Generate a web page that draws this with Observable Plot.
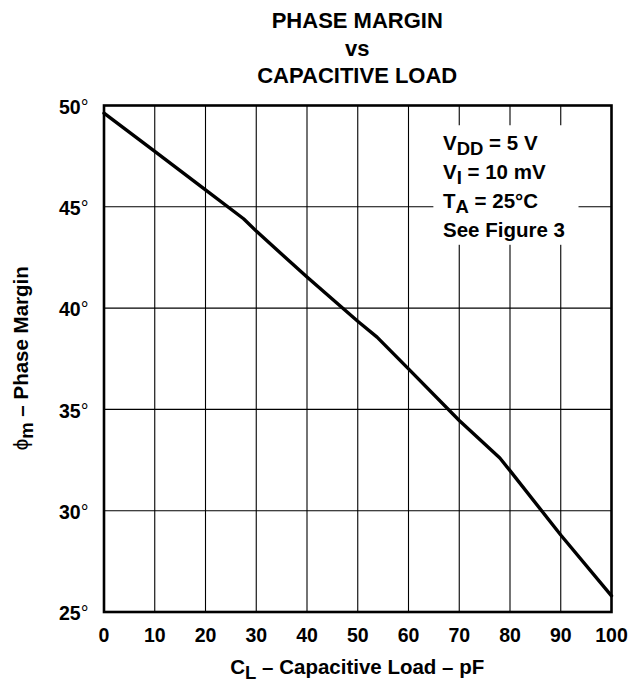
<!DOCTYPE html>
<html>
<head>
<meta charset="utf-8">
<script src="https://cdn.jsdelivr.net/npm/d3@7"></script>
<script src="https://cdn.jsdelivr.net/npm/@observablehq/plot@0.6"></script>
<style>
  html, body { margin: 0; padding: 0; background: #fff; }
  svg { display: block; }
</style>
</head>
<body>
<div id="chart"></div>
<script>
// Data
const capLoad = [0, 10, 20, 27.5, 30, 40, 50, 53.8, 60, 70, 78, 80, 90, 100];
const phaseMargin = [49.62, 47.74, 45.84, 44.41, 43.8, 41.53, 39.35, 38.57, 37.0, 34.45, 32.6, 31.98, 28.8, 25.8];

const xTicks = [0, 10, 20, 30, 40, 50, 60, 70, 80, 90, 100];
const yTicks = [25, 30, 35, 40, 45, 50];

const titleLines = ["PHASE MARGIN", "vs", "CAPACITIVE LOAD"];
const conditions = [
  ["V", "DD", " = 5 V"],
  ["V", "I", " = 10 mV"],
  ["T", "A", " = 25°C"],
  ["See Figure 3", "", ""]
];
// legend box extent (data units)
const legendBox = [{x1: 65.0, x2: 93.6, y1: 49.0, y2: 43.1}];

const data = capLoad.map((c, i) => ({c, p: phaseMargin[i]}));

const W = 630, H = 685;
const mL = 103.5, mR = 19, mT = 105, mB = 73.5;
const FONT = "'Liberation Sans', Arial, Helvetica, sans-serif";

const plot = Plot.plot({
  width: W,
  height: H,
  marginLeft: mL,
  marginRight: mR,
  marginTop: mT,
  marginBottom: mB,
  style: {fontFamily: FONT, background: "white", color: "black"},
  x: {domain: [0, 100]},
  y: {domain: [25, 50]},
  marks: [
    Plot.gridX(xTicks, {stroke: "black", strokeOpacity: 1, strokeWidth: 1.1}),
    Plot.gridY(yTicks, {stroke: "black", strokeOpacity: 1, strokeWidth: 1.1}),
    Plot.rect(legendBox, {x1: "x1", x2: "x2", y1: "y1", y2: "y2", fill: "white"}),
    Plot.axisX(xTicks, {tickSize: 0, tickPadding: 16.5, fontSize: 19.5, fontWeight: "bold", label: null, fill: "black"}),
    Plot.axisY(yTicks, {tickSize: 0, tickPadding: 15.5, fontSize: 19.5, fontWeight: "bold", label: null, dy: 2, fill: "black", tickFormat: d => d + "°"}),
    Plot.frame({stroke: "black", strokeWidth: 2.6}),
    Plot.line(data, {x: "c", y: "p", stroke: "black", strokeWidth: 3.4})
  ]
});

const svg = d3.select(plot);
const cx = mL + (W - mL - mR) / 2;

// thin degree sign on y tick labels
svg.selectAll("g[aria-label='y-axis tick label'] text").each(function() {
  const s = d3.select(this);
  const txt = s.text();
  if (txt.endsWith("°")) {
    s.text(txt.slice(0, -1));
    s.append("tspan").attr("font-weight", "normal").text("°");
  }
});

// Title
titleLines.forEach((t, i) => {
  svg.append("text")
    .attr("x", cx).attr("y", 28.3 + i * 27.4)
    .attr("text-anchor", "middle")
    .attr("font-family", FONT).attr("font-weight", "bold").attr("font-size", 22)
    .attr("fill", "black")
    .text(t);
});

// Conditions block
conditions.forEach((c, i) => {
  const t = svg.append("text")
    .attr("x", 443).attr("y", 150 + i * 29)
    .attr("text-anchor", "start")
    .attr("font-family", FONT).attr("font-weight", "bold").attr("font-size", 20.5)
    .attr("fill", "black");
  t.append("tspan").text(c[0]);
  if (c[1]) {
    t.append("tspan").attr("dy", 5).attr("font-size", 18.5).text(c[1]);
    t.append("tspan").attr("dy", -5).text(c[2]);
  }
});

// X axis label
const xl = svg.append("text")
  .attr("x", cx).attr("y", 674)
  .attr("text-anchor", "middle")
  .attr("font-family", FONT).attr("font-weight", "bold").attr("font-size", 20.5)
  .attr("fill", "black");
xl.append("tspan").text("C");
xl.append("tspan").attr("dy", 5).attr("font-size", 18.5).text("L");
xl.append("tspan").attr("dy", -5).text(" – Capacitive Load – pF");

// Y axis label
const yl = svg.append("text")
  .attr("transform", `translate(28,${mT + (H - mT - mB) / 2}) rotate(-90)`)
  .attr("text-anchor", "middle")
  .attr("font-family", FONT).attr("font-weight", "bold").attr("font-size", 20.5)
  .attr("fill", "black");
yl.append("tspan").attr("font-weight", "normal").text("ϕ");
yl.append("tspan").attr("dy", 5).attr("font-size", 18.5).text("m");
yl.append("tspan").attr("dy", -5).text(" – Phase Margin");

document.getElementById("chart").appendChild(plot);
</script>
</body>
</html>
